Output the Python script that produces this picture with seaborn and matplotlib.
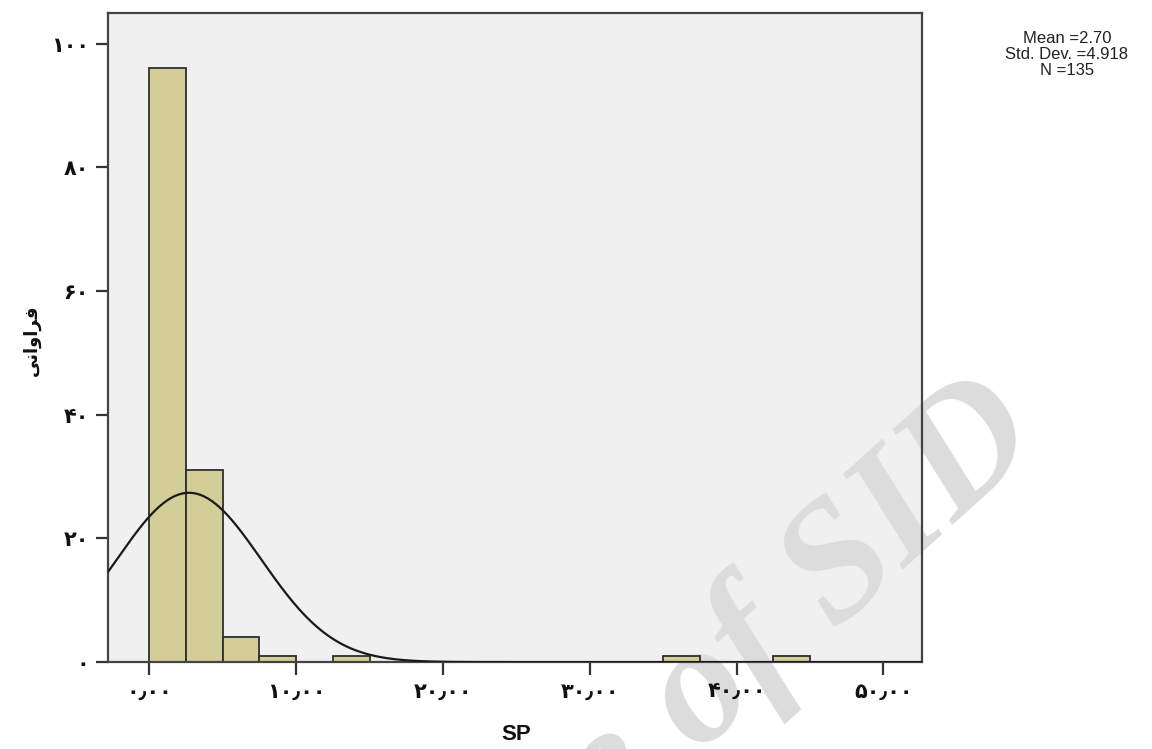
import numpy as np
import pandas as pd
import matplotlib
matplotlib.use("Agg")
import matplotlib.pyplot as plt
import seaborn as sns

# DATA (histogram of SP, bin width 2.5)
bin_left = [0, 2.5, 5, 7.5, 12.5, 35, 42.5]
counts = [96, 31, 4, 1, 1, 1, 1]
bin_width = 2.5
mean_sp = 2.70
std_sp = 4.918
n_sp = 135

x_ticks = [0, 10, 20, 30, 40, 50]
x_labels = ["۰٫۰۰", "۱۰٫۰۰", "۲۰٫۰۰", "۳۰٫۰۰", "۴۰٫۰۰", "۵۰٫۰۰"]
y_ticks = [0, 20, 40, 60, 80, 100]
y_labels = ["۰", "۲۰", "۴۰", "۶۰", "۸۰", "۱۰۰"]
# "فراوانی" written in shaped presentation forms, visual order
y_title = "\uFBFD\uFEE7\uFE8D\uFEED\uFE8D\uFEAE\uFED3"

df = pd.DataFrame({"SP": [b + bin_width / 2 for b in bin_left], "count": counts})

sns.set_style("white")
plt.rcParams["font.family"] = ["Liberation Sans", "DejaVu Sans"]

fig = plt.figure(figsize=(11.52, 7.49), dpi=100)
ax = fig.add_axes([0.094, 0.116, 0.706, 0.867])
ax.set_facecolor("#F0F0F0")

edges = [i * bin_width for i in range(19)]
sns.histplot(data=df, x="SP", weights="count", bins=edges, ax=ax,
             color="#D3CE98", edgecolor="#2e2e2e", linewidth=1.3, alpha=1, zorder=2)

# fitted normal curve from mean / sd / N
xs = np.linspace(-2.8, 52.6, 400)
ys = n_sp * bin_width / (std_sp * np.sqrt(2 * np.pi)) * np.exp(-0.5 * ((xs - mean_sp) / std_sp) ** 2)
sns.lineplot(x=xs, y=ys, ax=ax, color="#1a1a1a", linewidth=1.6, zorder=3)

ax.set_xlim(-2.8, 52.6)
ax.set_ylim(0, 105)
ax.set_xticks(x_ticks)
ax.set_xticklabels(x_labels, family=["DejaVu Sans"], fontsize=15, fontweight="bold", color="#111111")
ax.set_yticks(y_ticks)
ax.set_yticklabels(y_labels, family=["DejaVu Sans"], fontsize=15, fontweight="bold", color="#111111")
ax.tick_params(axis="both", bottom=True, left=True, direction="out", length=9,
               width=1.6, color="#333333", pad=5)
for s in ax.spines.values():
    s.set_color("#444444")
    s.set_linewidth(1.6)

ax.set_xlabel("SP", fontsize=16, fontweight="bold", color="#111111")
ax.xaxis.set_label_coords(0.501, -0.095)
ax.set_ylabel(y_title, family=["DejaVu Sans"], fontsize=13, fontweight="bold", color="#111111")
ax.yaxis.set_label_coords(-0.083, 0.496)

fig.text(0.926, 0.958, f"Mean ={mean_sp:.2f}\nStd. Dev. ={std_sp:.3f}\nN ={n_sp}",
         ha="center", va="top", fontsize=12, linespacing=1.05, color="#222222")

# watermark, under the bars / spines / tick labels
ax.text(0.909, 0.402, "Archive of SID", transform=fig.transFigure, clip_on=False,
        fontsize=122, family=["Liberation Serif"], style="italic", fontweight="bold",
        color="#DCDCDC", rotation=42, ha="right", va="baseline",
        rotation_mode="anchor", zorder=0.5)

fig.savefig("out.png", dpi=100)
